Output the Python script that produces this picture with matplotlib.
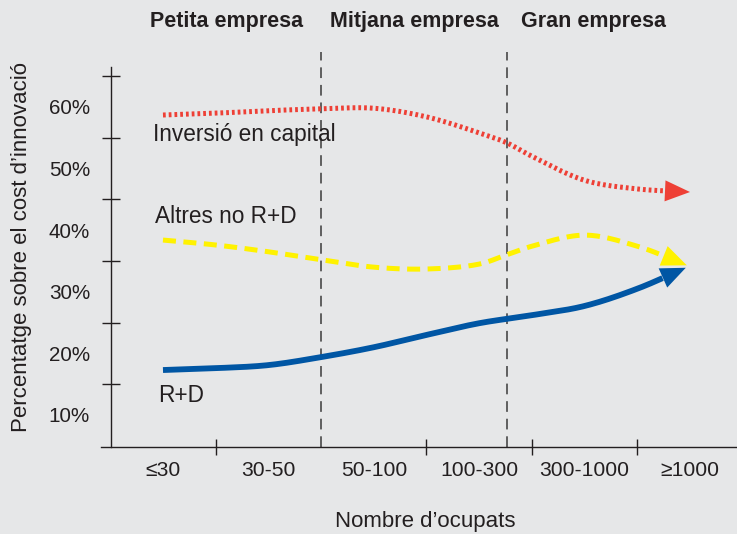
import numpy as np
import matplotlib
matplotlib.use("Agg")
import matplotlib.pyplot as plt

# ---------------- data ----------------
categories = ["≤30", "30-50", "50-100", "100-300", "300-1000", "≥1000"]
y_tick_vals = [10, 20, 30, 40, 50, 60]
y_tick_labels = ["10%", "20%", "30%", "40%", "50%", "60%"]
y_minor = [15, 25, 35, 45, 55, 65]
x_minor = [0.5, 2.5, 3.5, 4.5]
size_bounds = [1.5, 3.26]
groups = ["Petita empresa", "Mitjana empresa", "Gran empresa"]
group_pos = [0.6, 2.39, 4.08]

inv_x = [0, 0.5, 1, 1.5, 2, 2.5, 3, 3.26, 3.5, 4, 4.5, 5]
inv_y = [58.7, 59.0, 59.4, 59.7, 59.8, 58.4, 55.8, 54.2, 52.0, 48.1, 46.7, 46.2]
alt_x = [0, 0.5, 1, 1.5, 2, 2.5, 3, 3.26, 3.5, 4, 4.5, 4.97]
alt_y = [38.4, 37.6, 36.5, 35.2, 34.0, 33.7, 34.5, 36.0, 37.4, 39.2, 37.4, 34.3]
rd_x = [0, 0.5, 1, 1.5, 2, 2.5, 3, 3.5, 4, 4.5, 4.96]
rd_y = [17.3, 17.6, 18.1, 19.4, 21.0, 23.0, 24.9, 26.2, 27.7, 30.5, 33.9]

BG = "#e6e7e8"
INK = "#231f20"
RED = "#ee4036"
YEL = "#fff200"
BLUE = "#0056a4"
FONT = ["Liberation Sans", "DejaVu Sans"]
plt.rcParams["font.family"] = FONT

W, H = 737, 534
fig = plt.figure(figsize=(W / 100, H / 100), dpi=100, facecolor=BG)
ax_l, ax_b, ax_r, ax_t = 101, 87, 737, 534
ax = fig.add_axes([ax_l / W, ax_b / H, (ax_r - ax_l) / W, (ax_t - ax_b) / H])
ax.set_facecolor(BG)
xlim = (-0.588, 5.446)
ylim = (4.805, 77.37)
ax.set_xlim(*xlim)
ax.set_ylim(*ylim)
sx = (ax_r - ax_l) / (xlim[1] - xlim[0])
sy = (ax_t - ax_b) / (ylim[1] - ylim[0])


def catmull(xs, ys, n=30, alpha=0.5):
    P = np.column_stack([np.asarray(xs) * sx, np.asarray(ys) * sy])
    P = np.vstack([2 * P[0] - P[1], P, 2 * P[-1] - P[-2]])
    out = []
    for i in range(1, len(P) - 2):
        p0, p1, p2, p3 = P[i - 1:i + 3]
        t0 = 0.0
        t1 = t0 + np.linalg.norm(p1 - p0) ** alpha
        t2 = t1 + np.linalg.norm(p2 - p1) ** alpha
        t3 = t2 + np.linalg.norm(p3 - p2) ** alpha
        t = np.linspace(t1, t2, n)[:, None]
        A1 = (t1 - t) / (t1 - t0) * p0 + (t - t0) / (t1 - t0) * p1
        A2 = (t2 - t) / (t2 - t1) * p1 + (t - t1) / (t2 - t1) * p2
        A3 = (t3 - t) / (t3 - t2) * p2 + (t - t2) / (t3 - t2) * p3
        B1 = (t2 - t) / (t2 - t0) * A1 + (t - t0) / (t2 - t0) * A2
        B2 = (t3 - t) / (t3 - t1) * A2 + (t - t1) / (t3 - t1) * A3
        C = (t2 - t) / (t2 - t1) * B1 + (t - t1) / (t2 - t1) * B2
        out.append(C if i == len(P) - 3 else C[:-1])
    return np.vstack(out)


def draw_series(xs, ys, color, lw, ls, head_len=25, head_half=10.5):
    C = catmull(xs, ys)
    tip = C[-1]
    d = np.linalg.norm(C - tip, axis=1)
    idx = np.where(d >= head_len)[0][-1]
    base = C[idx]
    line = C[:idx + 1]
    ax.plot(line[:, 0] / sx, line[:, 1] / sy, color=color, lw=lw, ls=ls,
            solid_capstyle="butt", dash_capstyle="butt", zorder=3)
    ax.annotate("", xy=(tip[0] / sx, tip[1] / sy), xytext=(base[0] / sx, base[1] / sy),
                arrowprops=dict(arrowstyle=f"-|>,head_length={head_len*0.72},head_width={head_half*0.72}",
                                mutation_scale=1, fc=color, ec="none", lw=0,
                                shrinkA=0, shrinkB=0), zorder=4)


draw_series(inv_x, inv_y, RED, 3.6, (0, (0.55, 0.6)))
draw_series(alt_x, alt_y, YEL, 3.6, (0, (2.6, 1.5)))
draw_series(rd_x, rd_y, BLUE, 4.2, "-")

# vertical size-class separators
ax.vlines(size_bounds, ylim[0], 68.9, colors="#3a3a3a", lw=1.1,
          linestyles=(0, (7, 4.5)), zorder=2)

# spines
for s in ("top", "right"):
    ax.spines[s].set_visible(False)
ax.spines["left"].set_position(("data", -0.489))
ax.spines["left"].set_bounds(ylim[0], 66.5)
for s in ("left", "bottom"):
    ax.spines[s].set_color(INK)
    ax.spines[s].set_linewidth(1.0)

# ticks
ax.set_xticks(range(len(categories)))
ax.set_xticklabels(categories)
ax.set_xticks(x_minor, minor=True)
ax.tick_params(axis="x", which="major", length=0, pad=10, labelsize=15.2, labelcolor=INK)
ax.tick_params(axis="x", which="minor", direction="inout", length=11.5, width=1.0, color=INK)
ax.set_yticks(y_tick_vals)
ax.set_yticklabels(y_tick_labels)
ax.set_yticks(y_minor, minor=True)
ax.tick_params(axis="y", which="major", length=0, pad=15.5, labelsize=14.9, labelcolor=INK)
ax.tick_params(axis="y", which="minor", direction="inout", length=13, width=1.0, color=INK)

# labels
ax.set_xlabel("Nombre d’ocupats", fontsize=16, color=INK)
ax.xaxis.set_label_coords((425 - ax_l) / (ax_r - ax_l), (447 - 511) / (447))
ax.set_ylabel("Percentatge sobre el cost d’innovació", fontsize=16, color=INK)
ax.yaxis.set_label_coords((32 - ax_l) / (ax_r - ax_l), (447 - 247) / 447)

ax.text(-0.095, 55.5, "Inversió en capital", fontsize=16.3, color=INK, va="center", ha="left")
ax.text(-0.076, 42.3, "Altres no R+D", fontsize=16.3, color=INK, va="center", ha="left")
ax.text(-0.05, 13.2, "R+D", fontsize=16.3, color=INK, va="center", ha="left")

for g, p in zip(groups, group_pos):
    ax.text(p, 73.8, g, fontsize=15.5, fontweight="bold", color=INK, ha="center", va="center")

fig.savefig("out.png", dpi=100, facecolor=BG)
